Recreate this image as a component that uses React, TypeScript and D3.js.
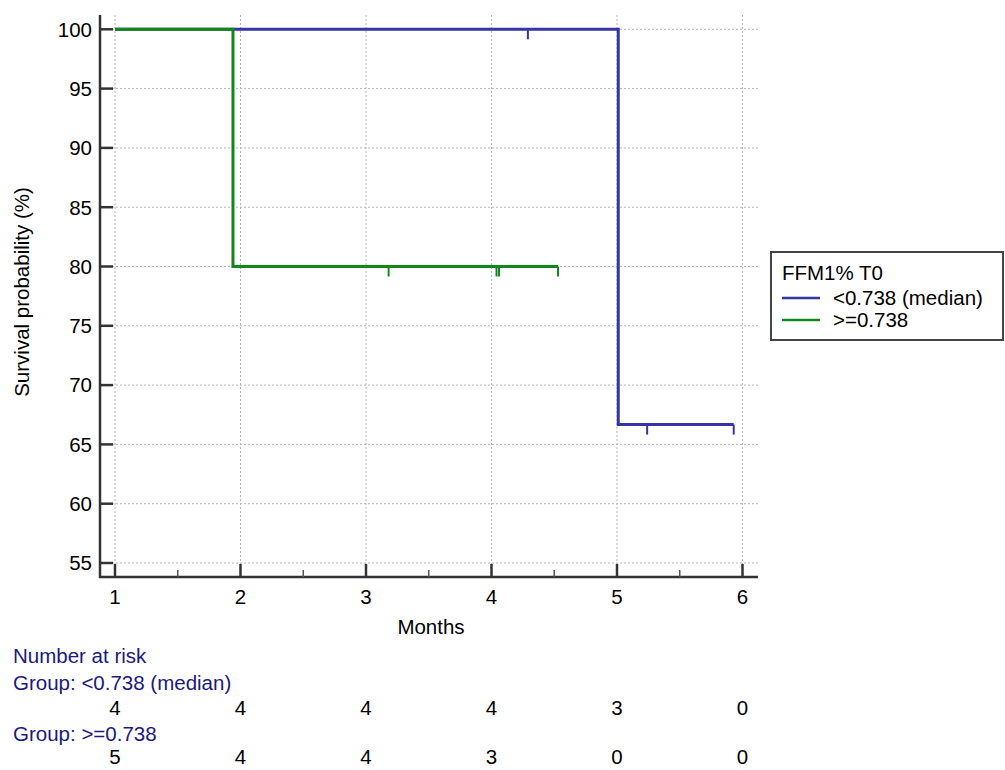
import React from "react";
import * as d3 from "d3";

// ---- data ----
const months = [1, 2, 3, 4, 5, 6];
const minorMonths = [1.5, 2.5, 3.5, 4.5, 5.5];
const yTicks = [55, 60, 65, 70, 75, 80, 85, 90, 95, 100];

const legendTitle = "FFM1% T0";
const groupLabels = ["<0.738 (median)", ">=0.738"];
const groupColors = ["#3535a5", "#12881a"];

// step changes (time, survival after time)
const lowTimes = [1, 5.01, 5.93];
const lowSurv = [100, 66.67, 66.67];
const lowCensored = [4.29, 5.24, 5.93];

const highTimes = [1, 1.94, 4.53];
const highSurv = [100, 80, 80];
const highCensored = [3.18, 4.04, 4.06, 4.53];

const atRiskLow = [4, 4, 4, 4, 3, 0];
const atRiskHigh = [5, 4, 4, 3, 0, 0];

const W = 1005;
const H = 770;
const font = "'Liberation Sans', Arial, sans-serif";
const fs = 20.5;

export default function App() {
  const x = d3.scaleLinear().domain([1, 6]).range([115, 742.5]);
  const y = d3.scaleLinear().domain([55, 100]).range([563, 29.3]);

  const axisLeft = 100;
  const axisRight = 758;
  const axisTop = 15;
  const axisBottom = 577;

  const line = d3
    .line<[number, number]>()
    .x((d) => x(d[0]))
    .y((d) => y(d[1]))
    .curve(d3.curveStepAfter);

  const survAt = (times: number[], surv: number[], t: number) => {
    let s = surv[0];
    times.forEach((tt, i) => {
      if (tt <= t) s = surv[i];
    });
    return s;
  };

  const groups = [
    { times: lowTimes, surv: lowSurv, cens: lowCensored, color: groupColors[0] },
    { times: highTimes, surv: highSurv, cens: highCensored, color: groupColors[1] },
  ];

  return (
    <svg
      width={W}
      height={H}
      style={{ position: "absolute", left: 0, top: 0, background: "#fff" }}
      fontFamily={font}
    >
      {/* grid */}
      <g stroke="#b4b4b4" strokeWidth={1} strokeDasharray="2,2">
        {yTicks.map((t) => (
          <line key={"gy" + t} x1={axisLeft} x2={axisRight} y1={y(t)} y2={y(t)} />
        ))}
        {months.map((m) => (
          <line key={"gx" + m} x1={x(m)} x2={x(m)} y1={axisTop} y2={axisBottom} />
        ))}
      </g>

      {/* survival curves */}
      {groups.map((g, gi) => (
        <g key={"g" + gi}>
          <path
            d={line(g.times.map((t, i) => [t, g.surv[i]] as [number, number])) || ""}
            fill="none"
            stroke={g.color}
            strokeWidth={3}
          />
          {g.cens.map((c, i) => (
            <line
              key={"c" + i}
              x1={x(c)}
              x2={x(c)}
              y1={y(survAt(g.times, g.surv, c))}
              y2={y(survAt(g.times, g.surv, c)) + 10}
              stroke={g.color}
              strokeWidth={2}
            />
          ))}
        </g>
      ))}

      {/* axes */}
      <g stroke="#333" strokeWidth={2.5}>
        <line x1={axisLeft} x2={axisLeft} y1={axisTop} y2={axisBottom + 1} />
        <line x1={axisLeft - 1} x2={axisRight} y1={axisBottom} y2={axisBottom} />
        {yTicks.map((t) => (
          <line key={"ty" + t} x1={axisLeft} x2={axisLeft + 13} y1={y(t)} y2={y(t)} />
        ))}
        {months.map((m) => (
          <line key={"tx" + m} x1={x(m)} x2={x(m)} y1={axisBottom} y2={axisBottom - 13} />
        ))}
      </g>
      <g stroke="#555" strokeWidth={1.5}>
        {minorMonths.map((m) => (
          <line key={"mx" + m} x1={x(m)} x2={x(m)} y1={axisBottom} y2={axisBottom - 7} />
        ))}
      </g>

      {/* tick labels */}
      <g fontSize={fs} fill="#000">
        {yTicks.map((t) => (
          <text key={"ly" + t} x={92} y={y(t)} dy="0.36em" textAnchor="end">
            {t}
          </text>
        ))}
        {months.map((m) => (
          <text key={"lx" + m} x={x(m)} y={604} textAnchor="middle">
            {m}
          </text>
        ))}
        <text x={431} y={634} textAnchor="middle">
          Months
        </text>
        <text transform="translate(29,292) rotate(-90)" textAnchor="middle">
          Survival probability (%)
        </text>
      </g>

      {/* legend */}
      <rect x={771} y={252} width={232} height={88} fill="#fff" stroke="#444" strokeWidth={2} />
      <text x={782} y={280} fontSize={fs}>
        {legendTitle}
      </text>
      {groupLabels.map((lab, i) => (
        <g key={"lg" + i}>
          <line x1={782} x2={820} y1={298 + i * 22} y2={298 + i * 22} stroke={groupColors[i]} strokeWidth={2.5} />
          <text x={833} y={305 + i * 22} fontSize={fs}>
            {lab}
          </text>
        </g>
      ))}

      {/* number at risk */}
      <g fontSize={fs}>
        <text x={13} y={663} fill="#1a1a80">
          Number at risk
        </text>
        <text x={13} y={690} fill="#1a1a80">
          Group: {groupLabels[0]}
        </text>
        {atRiskLow.map((n, i) => (
          <text key={"rl" + i} x={x(months[i])} y={715} textAnchor="middle" fill="#000">
            {n}
          </text>
        ))}
        <text x={13} y={741} fill="#1a1a80">
          Group: {groupLabels[1]}
        </text>
        {atRiskHigh.map((n, i) => (
          <text key={"rh" + i} x={x(months[i])} y={764} textAnchor="middle" fill="#000">
            {n}
          </text>
        ))}
      </g>
    </svg>
  );
}
